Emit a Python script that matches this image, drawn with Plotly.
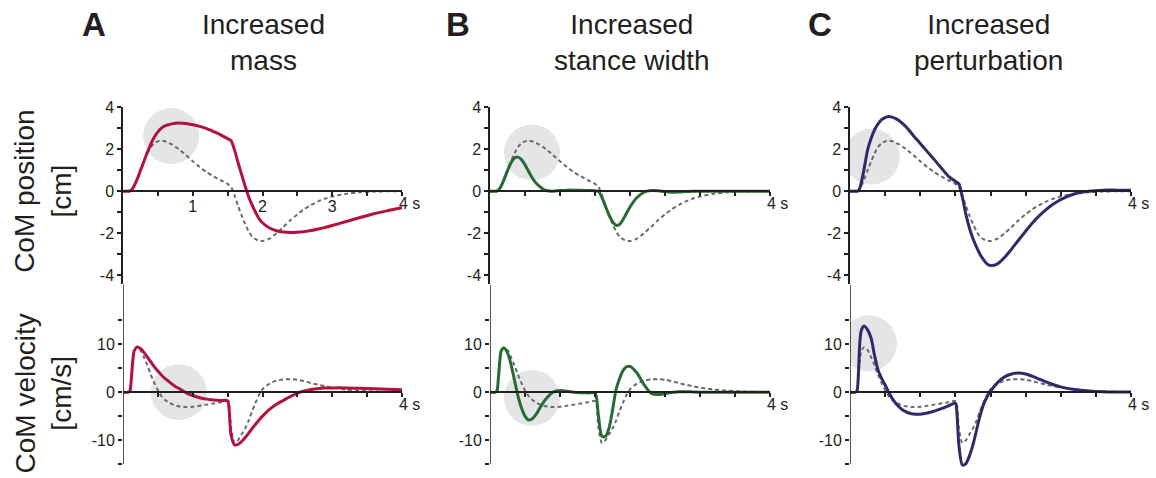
import plotly.graph_objects as go

# ---- time base (s) shared by all traces ----
t = [0, 0.08, 0.1, 0.12, 0.14, 0.16, 0.2, 0.25, 0.3, 0.35, 0.4, 0.45, 0.5, 0.55, 0.6,
     0.65, 0.7, 0.75, 0.8, 0.85, 0.9, 1.0, 1.1, 1.2, 1.3, 1.4, 1.5, 1.52, 1.55, 1.6,
     1.65, 1.7, 1.75, 1.8, 1.85, 1.9, 1.95, 2.0, 2.1, 2.2, 2.3, 2.4, 2.5, 2.6, 2.7,
     2.8, 2.9, 3.0, 3.2, 3.4, 3.6, 3.8, 4.0]

# ---- CoM position (cm) ----
base_pos = [0, 0, 0.01, 0.05, 0.14, 0.25, 0.55, 0.98, 1.4, 1.8, 2.1, 2.28, 2.37, 2.4, 2.37,
            2.3, 2.22, 2.11, 2.0, 1.86, 1.72, 1.42, 1.15, 0.9, 0.7, 0.52, 0.35, 0.3, 0.2, -0.2,
            -0.7, -1.15, -1.55, -1.9, -2.15, -2.28, -2.35, -2.37, -2.25, -2.0, -1.7, -1.38, -1.1, -0.85, -0.65,
            -0.48, -0.35, -0.25, -0.12, -0.05, -0.02, 0, 0]
mass_pos = [0, 0, 0.01, 0.05, 0.14, 0.25, 0.55, 0.98, 1.42, 1.85, 2.25, 2.58, 2.82, 3.0, 3.1,
            3.16, 3.2, 3.23, 3.24, 3.23, 3.22, 3.16, 3.08, 2.97, 2.83, 2.68, 2.5, 2.46, 2.4, 1.95,
            1.35, 0.8, 0.25, -0.25, -0.65, -1.0, -1.3, -1.5, -1.75, -1.88, -1.94, -1.96, -1.95, -1.92, -1.87,
            -1.8, -1.72, -1.63, -1.44, -1.25, -1.07, -0.92, -0.78]
width_pos = [0, 0, 0.01, 0.05, 0.14, 0.25, 0.55, 0.98, 1.35, 1.58, 1.62, 1.5, 1.25, 0.95, 0.65,
             0.42, 0.25, 0.12, 0.04, 0.01, 0.0, 0.03, 0.05, 0.05, 0.04, 0.03, 0.02, 0.01, 0.0, -0.3,
             -0.72, -1.12, -1.45, -1.62, -1.58, -1.35, -1.05, -0.75, -0.3, -0.05, 0.03, 0.02, -0.03, -0.05, -0.04,
             -0.02, 0, 0, 0, 0, 0, 0, 0]
pert_pos = [0, 0, 0.0, 0.02, 0.15, 0.4, 1.05, 1.95, 2.5, 2.92, 3.2, 3.4, 3.5, 3.55, 3.52,
            3.45, 3.35, 3.21, 3.05, 2.86, 2.65, 2.27, 1.88, 1.5, 1.1, 0.72, 0.47, 0.43, 0.35, -0.3,
            -1.1, -1.75, -2.25, -2.65, -3.0, -3.25, -3.45, -3.53, -3.45, -3.15, -2.75, -2.32, -1.9, -1.5, -1.15,
            -0.85, -0.6, -0.4, -0.12, 0.0, 0.05, 0.05, 0.04]

# ---- CoM velocity (cm/s) ----
base_vel = [0, 0, 0.3, 3.0, 6.5, 8.6, 9.4, 8.8, 7.3, 5.6, 3.6, 1.9, 0.4, -0.8, -1.6,
            -2.1, -2.5, -2.75, -2.95, -3.05, -3.1, -3.05, -2.85, -2.6, -2.35, -2.1, -1.85, -2.5, -7.5, -10.6,
            -10.0, -8.8, -7.6, -6.0, -4.0, -2.2, -0.6, 0.6, 1.8, 2.4, 2.65, 2.7, 2.6, 2.3, 1.9,
            1.55, 1.25, 0.95, 0.55, 0.3, 0.15, 0.06, 0.02]
mass_vel = [0, 0, 0.3, 3.0, 6.5, 8.6, 9.4, 9.1, 8.3, 7.3, 6.3, 5.3, 4.4, 3.6, 2.9,
            2.3, 1.7, 1.2, 0.8, 0.35, -0.1, -0.7, -1.15, -1.45, -1.65, -1.75, -1.8, -3.5, -9.0, -11.0,
            -10.9, -10.3, -9.5, -8.6, -7.6, -6.7, -5.8, -5.0, -3.6, -2.5, -1.7, -0.9, -0.2, 0.25, 0.55,
            0.75, 0.85, 0.9, 0.9, 0.8, 0.7, 0.6, 0.5]
width_vel = [0, 0, 0.3, 3.0, 6.5, 8.6, 9.2, 8.2, 5.8, 2.5, -0.8, -3.3, -5.0, -5.8, -5.6,
             -4.8, -3.6, -2.4, -1.4, -0.6, 0.0, 0.35, 0.2, 0.0, -0.1, -0.15, -0.2, -1.0, -5.0, -9.2,
             -9.2, -7.5, -3.8, 0.5, 2.8, 4.5, 5.3, 5.4, 4.0, 1.6, -0.2, -0.5, -0.3, -0.05, 0.1,
             0.1, 0.05, 0, 0, 0, 0, 0, 0]
pert_vel = [0, 0, 0.3, 4.0, 10.4, 12.8, 13.8, 13.0, 11.3, 7.6, 4.6, 2.9, 1.5, 0.0, -1.3,
            -2.3, -3.1, -3.7, -4.1, -4.4, -4.55, -4.6, -4.35, -3.95, -3.45, -2.85, -2.3, -4.0, -11.0, -15.2,
            -14.9, -13.3, -11.0, -8.0, -5.0, -2.6, -1.0, 0.2, 2.0, 3.2, 3.8, 4.0, 3.8, 3.3, 2.7,
            2.1, 1.55, 1.1, 0.55, 0.25, 0.1, 0.04, 0.02]

panel_letters = ["A", "B", "C"]
panel_titles = ["Increased<br>mass", "Increased<br>stance width", "Increased<br>perturbation"]
colors = ["#b3123f", "#276b32", "#33296a"]
pos_series = [mass_pos, width_pos, pert_pos]
vel_series = [mass_vel, width_vel, pert_vel]

# highlighted regions (time s, value) per panel
pos_marks = [(0.69, 2.62), (0.6, 1.84), (0.31, 1.64)]
vel_marks = [(0.8, 0.0), (0.6, -1.2), (0.27, 10.2)]

pos_ticks = [-4, -3, -2, -1, 0, 1, 2, 3, 4]
pos_ticktext = ["-4", "", "-2", "", "0", "", "2", "", "4"]
vel_ticks = [-15, -10, -5, 0, 5, 10, 15]
vel_ticktext = ["", "-10", "", "0", "", "10", ""]
time_ticks = [0.5, 1, 1.5, 2, 2.5, 3, 3.5, 4]
time_ticktext = ["", "1", "", "2", "", "3", "", ""]

# ---- layout geometry (pixels in a 1156 x 478 page) ----
W, H = 1156, 478
FONT = "Liberation Sans, Arial, Helvetica, sans-serif"
INK = "#231f20"
AXW = 1.5
cols_px = [(123, 402), (490, 770), (850, 1131)]
POS_RANGE = [-4.4, 4.0]
VEL_RANGE = [-15.8, 22.5]
VEL_AXIS_SPAN = [-15, 22.5]     # drawn extent of the velocity axis line
rows_px = [(100.7, 280.5), (281.1, 467.7)]
ranges = [POS_RANGE, VEL_RANGE]

fig = go.Figure()
layout = dict(
    width=W, height=H, margin=dict(l=0, r=0, t=0, b=0),
    paper_bgcolor="white", plot_bgcolor="rgba(0,0,0,0)",
    showlegend=False, font=dict(family=FONT, color=INK, size=16),
)
shapes, annotations = [], []

for r in range(2):
    top, bot = rows_px[r]
    ydom = [1 - bot / H, 1 - top / H]
    rng = ranges[r]
    zero_frac = ydom[0] + (ydom[1] - ydom[0]) * (0 - rng[0]) / (rng[1] - rng[0])
    for i in range(3):
        k = r * 3 + i + 1
        xs = "" if k == 1 else str(k)
        xname, yname = "x" + xs, "y" + xs
        left, right = cols_px[i]
        xdom = [left / W, right / W]

        show_time_labels = (r == 0 and i == 0)
        layout["xaxis" + xs] = dict(
            domain=xdom, range=[0, 4], anchor="free", position=zero_frac,
            showline=True, linecolor=INK, linewidth=AXW, showgrid=False, zeroline=False,
            tickmode="array", tickvals=time_ticks,
            ticktext=time_ticktext if show_time_labels else [""] * len(time_ticks),
            ticks="outside", ticklen=4, tickwidth=AXW, tickcolor=INK,
            ticklabelstandoff=-3,
            tickfont=dict(size=16, color=INK), fixedrange=True,
        )
        layout["yaxis" + xs] = dict(
            domain=ydom, range=rng, anchor=xname,
            showline=(r == 0), linecolor=INK, linewidth=AXW, showgrid=False, zeroline=False,
            tickmode="array",
            tickvals=pos_ticks if r == 0 else vel_ticks,
            ticktext=pos_ticktext if r == 0 else vel_ticktext,
            ticks="outside", ticklen=4, tickwidth=AXW, tickcolor=INK,
            tickfont=dict(size=16, color=INK), fixedrange=True,
        )
        if r == 1:
            # velocity axis line stops at the -15 tick
            shapes.append(dict(
                type="line", xref=xname, yref=yname, layer="above",
                x0=0, x1=0, y0=VEL_AXIS_SPAN[0], y1=VEL_AXIS_SPAN[1],
                line=dict(color=INK, width=AXW),
            ))

        # grey highlight disc
        cx, cy = (pos_marks if r == 0 else vel_marks)[i]
        shapes.append(dict(
            type="circle", xref=xname, yref=yname, layer="below",
            xsizemode="pixel", ysizemode="pixel", xanchor=cx, yanchor=cy,
            x0=-28, x1=28, y0=-28, y1=28,
            fillcolor="#e4e5e7", line=dict(width=0),
        ))

        base = base_pos if r == 0 else base_vel
        ser = (pos_series if r == 0 else vel_series)[i]
        fig.add_trace(go.Scatter(
            x=t, y=base, mode="lines", xaxis=xname, yaxis=yname,
            line=dict(color="#6a6a6a", width=2, dash="4px,3px", shape="spline", smoothing=0.8),
            hoverinfo="skip",
        ))
        fig.add_trace(go.Scatter(
            x=t, y=ser, mode="lines", xaxis=xname, yaxis=yname,
            line=dict(color=colors[i], width=3, shape="spline", smoothing=0.8),
            hoverinfo="skip",
        ))

        # "4 s" end-of-axis label
        annotations.append(dict(
            x=4, y=0, xref=xname, yref=yname, text="4 s", showarrow=False,
            xanchor="left", yanchor="top", xshift=-5, yshift=-2,
            font=dict(size=16, color=INK),
        ))

# panel letters and titles
letter_x = [94, 458, 820]
title_x = [263, 632, 988]
for i in range(3):
    annotations.append(dict(
        x=letter_x[i] / W, y=1 - 17 / H, xref="paper", yref="paper",
        text="<b>%s</b>" % panel_letters[i], showarrow=False,
        xanchor="center", yanchor="middle", font=dict(size=33, color=INK),
    ))
    annotations.append(dict(
        x=title_x[i] / W, y=1 - 35 / H, xref="paper", yref="paper",
        text=panel_titles[i], showarrow=False,
        xanchor="center", yanchor="middle", font=dict(size=28, color=INK),
    ))

# row titles
row_titles = ["CoM position<br>[cm]", "CoM velocity<br>[cm/s]"]
row_centers = [187, 392]
for r in range(2):
    annotations.append(dict(
        x=43 / W, y=1 - row_centers[r] / H, xref="paper", yref="paper",
        text=row_titles[r], showarrow=False, textangle=-90,
        xanchor="center", yanchor="middle", font=dict(size=28, color=INK),
    ))

layout["shapes"] = shapes
layout["annotations"] = annotations
fig.update_layout(**layout)
fig.write_html("out.html")
